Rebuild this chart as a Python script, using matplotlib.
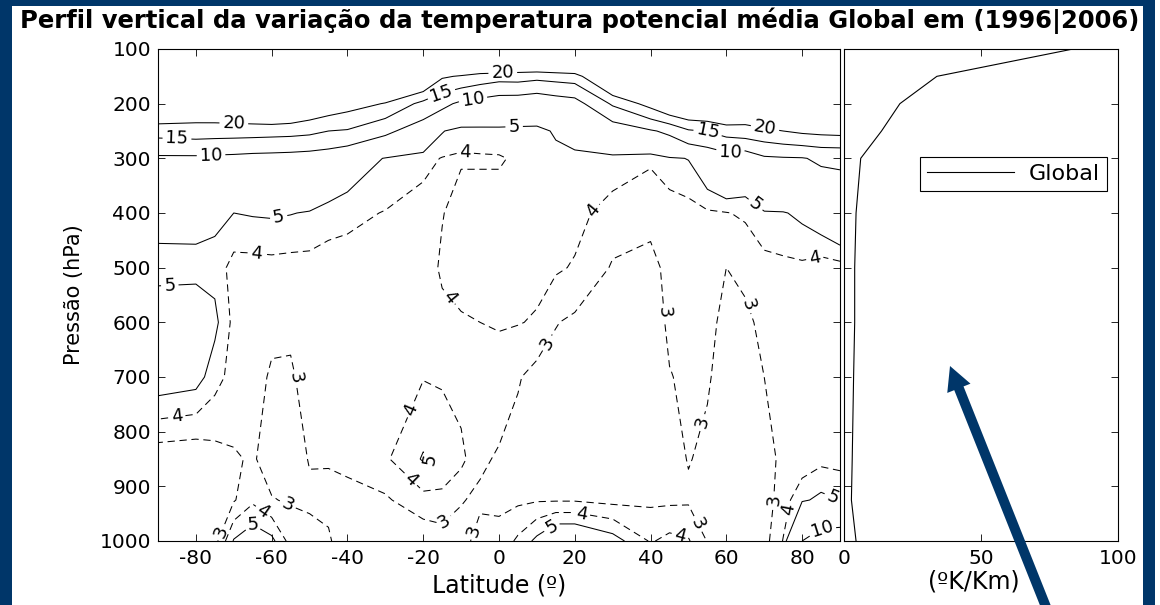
import numpy as np
import matplotlib
matplotlib.use("Agg")
import matplotlib.pyplot as plt
from matplotlib.patches import Rectangle, FancyArrow

plt.rcParams['axes.unicode_minus'] = False

# latitude columns and pressure levels of the zonal mean field
lats = [-90, -80, -75, -70, -65, -60, -55, -50, -45, -40, -30, -20, -15, -10, -5, 0,
        5, 10, 15, 20, 30, 40, 45, 50, 55, 60, 65, 70, 75, 80, 85, 90]
levels_hpa = [100, 150, 200, 250, 300, 400, 500, 600, 700, 850, 925, 1000]

# variation of mean potential temperature, one list per pressure level
dth_100 = [40, 40, 40, 40, 40, 40, 40, 40, 40, 40, 40, 40, 40, 38, 38, 42,
           37, 38.4, 40, 42, 42, 42, 41, 40, 40, 40, 40, 40, 40, 40, 40, 40]
dth_150 = [34, 33, 33, 33, 34, 35, 34, 32, 30, 29, 30, 28.2, 20.7, 19.5, 18, 17,
           17.2, 16.5, 17, 17.5, 30, 32, 32, 33, 34, 35, 34, 34, 33, 33, 33, 33]
dth_200 = [28.5, 25.8, 26.3, 27.2, 28.3, 29.8, 28.5, 25.7, 23.9, 22.3, 19.7, 13.5, 11.3, 9.0, 8.0, 7.0,
           6.8, 6.05, 7.2, 8.0, 15.7, 22.0, 26.5, 28.3, 28.75, 30.6, 26.6, 30.0, 28.0, 28.0, 28.0, 28.0]
dth_250 = [17.0, 17.5, 17.3, 17.2, 17.1, 16.9, 16.7, 16.2, 15.0, 14.6, 11.0, 7.5, 5.1, 4.35, 4.5, 4.67,
           4.65, 4.77, 5.1, 5.9, 7.1, 9.5, 11.0, 14.4, 15.2, 17.0, 18.0, 18.8, 20.0, 21.0, 21.5, 21.8]
dth_300 = [9.2, 9.2, 9.0, 8.8, 8.45, 8.3, 8.1, 7.8, 7.4, 6.2, 4.9, 4.3, 3.95, 3.9, 3.9, 3.9,
           4.15, 4.3, 4.8, 4.6, 4.7, 4.15, 4.8, 5.05, 6.5, 8.0, 7.0, 9.3, 9.6, 9.75, 10.7, 10.8]
dth_400 = [5.5, 5.4, 5.3, 5.0, 5.1, 5.15, 5.05, 4.9, 4.4, 4.25, 3.95, 3.6, 3.95, 4.4, 4.4, 4.4,
           4.5, 4.5, 4.5, 4.35, 3.53, 3.35, 3.4, 3.6, 3.85, 3.95, 4.15, 4.85, 4.9, 5.3, 6.0, 7.0]
dth_500 = [4.6, 4.7, 4.6, 3.6, 3.6, 3.65, 3.6, 3.6, 3.6, 3.6, 3.6, 3.5, 4.15, 4.4, 4.4, 4.3,
           4.4, 4.3, 4.15, 3.9, 2.9, 2.68, 3.3, 3.5, 3.6, 3.0, 3.3, 3.6, 3.75, 3.8, 3.5, 3.6]
dth_600 = [5.8, 5.7, 5.3, 3.7, 3.5, 3.2, 3.15, 3.45, 3.4, 3.45, 3.5, 3.5, 3.75, 3.9, 4.0, 4.1,
           4.05, 3.9, 3.05, 2.8, 2.6, 2.4, 3.2, 3.3, 3.3, 2.7, 2.75, 3.3, 3.5, 3.5, 3.4, 3.4]
dth_700 = [5.8, 5.5, 4.4, 3.6, 3.3, 2.9, 2.9, 3.3, 3.3, 3.35, 3.4, 3.95, 3.85, 3.5, 3.6, 3.5,
           3.1, 2.6, 2.6, 2.5, 2.4, 2.3, 2.95, 3.2, 3.1, 2.6, 2.6, 3.0, 3.4, 3.4, 3.5, 3.5]
dth_850 = [2.3, 2.2, 2.6, 2.9, 3.1, 2.6, 2.6, 3.05, 3.06, 3.12, 3.85, 5.1, 4.8, 4.3, 3.15, 2.9,
           2.6, 2.5, 2.4, 2.4, 2.3, 2.4, 2.6, 3.05, 2.8, 2.5, 2.5, 2.5, 3.3, 3.3, 3.7, 3.6]
dth_925 = [2.0, 2.3, 2.4, 2.9, 3.8, 3.05, 2.9, 2.85, 2.8, 2.85, 2.85, 3.7, 3.7, 3.05, 2.85, 2.8,
           2.8, 2.9, 2.9, 2.9, 2.7, 2.8, 2.8, 2.85, 2.7, 2.6, 2.6, 2.5, 3.5, 4.8, 5.3, 5.0]
dth_1000 = [2.0, 2.4, 2.6, 5.1, 5.8, 5.3, 3.6, 3.3, 3.1, 2.5, 2.6, 2.2, 2.5, 2.7, 3.3, 3.3,
            4.2, 5.3, 6.5, 6.5, 5.5, 3.9, 4.3, 4.1, 2.95, 2.8, 2.7, 2.6, 4.05, 10.0, 12.0, 12.5]

# global mean profile (right panel)
global_pres = [100, 150, 200, 250, 300, 400, 500, 600, 700, 850, 925, 1000]
global_vals = [83.6, 33.9, 20.4, 13.7, 6.1, 4.4, 3.9, 3.9, 3.5, 3.0, 2.7, 4.4]

dashed_levels = [3, 4]
solid_levels = [5, 10, 15, 20]

title = u"Perfil vertical da varia\u00e7\u00e3o da temperatura potencial m\u00e9dia Global em (1996|2006)"

# where the contour labels sit (lat, hPa)
lab_pos = {
    20: [(-70, 239), (1, 144), (70, 254)],
    15: [(-85, 266), (-16, 169), (55, 254)],
    10: [(-76, 294), (-7, 186), (61, 285), (85, 958)],
    5: [(-87, 516), (-58, 413), (4, 243), (68, 382), (-67, 952), (-18, 851), (14, 975), (88, 921)],
    4: [(-64, 470), (-85, 775), (-9, 296), (-13, 553), (25, 397), (83, 470), (-27, 748),
        (-23, 885), (-62, 943), (22, 940), (48, 985), (77, 943)],
    3: [(-54, 702), (-75, 979), (-56, 937), (-15, 961), (-8, 979), (12, 635), (41, 583),
        (54, 784), (67, 565), (53, 967), (75, 927)],
}

navy = '#003669'
W, H = 1160, 605

field = np.array([dth_100, dth_150, dth_200, dth_250, dth_300, dth_400, dth_500,
                  dth_600, dth_700, dth_850, dth_925, dth_1000])
LAT, P = np.meshgrid(lats, levels_hpa)

fig = plt.figure(figsize=(W / 100, H / 100), dpi=100)
fig.patch.set_facecolor('white')

def px_axes(x0, y0, x1, y1):
    return [x0 / W, 1 - y1 / H, (x1 - x0) / W, (y1 - y0) / H]

ax = fig.add_axes(px_axes(158, 49, 840, 541))
ax2 = fig.add_axes(px_axes(844, 49, 1118, 541))

ax.set_xlim(-90, 90)
ax.set_ylim(1000, 100)

# one contour set per level so each gets its own labels
for lev in dashed_levels + solid_levels:
    ls = [(0, (7, 4.5))] if lev in dashed_levels else 'solid'
    cs = ax.contour(LAT, P, field, levels=[lev], colors='k', linewidths=0.75,
                    linestyles=ls)
    ax.set_xlim(-90, 90)
    ax.set_ylim(1000, 100)
    ax.clabel(cs, manual=lab_pos[lev], inline=True, inline_spacing=3,
              fontsize=13, fmt='%d', colors='k')

ax.set_xticks(range(-80, 81, 20))
ax.set_yticks(range(100, 1001, 100))

for a in (ax, ax2):
    a.tick_params(direction='in', top=True, right=True, length=5, width=0.6,
                  labelsize=14.5)
    a.tick_params(axis='x', pad=6)
    a.tick_params(axis='y', pad=5)
    for s in a.spines.values():
        s.set_linewidth(0.8)

ax.set_ylabel(u'Press\u00e3o (hPa)', fontsize=15)
ax.yaxis.set_label_coords(-0.109, 0.5)
ax.set_xlabel(u'Latitude (\u00ba)', fontsize=17)
ax.xaxis.set_label_coords(0.5, -0.066)

ax2.plot(global_vals, global_pres, color='k', lw=0.8, label='Global')
ax2.set_xlim(0, 100)
ax2.set_ylim(1000, 100)
ax2.set_xticks([0, 50, 100])
ax2.set_yticks(range(100, 1001, 100))
ax2.set_yticklabels([])
ax2.set_xlabel(u'(\u00baK/Km)', fontsize=17)
ax2.xaxis.set_label_coords(0.474, -0.058)
leg = ax2.legend(loc='upper left', bbox_to_anchor=(0.277, 0.7805), borderaxespad=0,
                 fancybox=False, edgecolor='k', framealpha=1, fontsize=16,
                 handlelength=3.9, handletextpad=0.7, borderpad=0.32)
leg.get_frame().set_linewidth(0.8)

fig.text(0.5, 1 - 21 / H, title, ha='center', va='center', fontsize=17.5,
         fontweight='bold')

# slide frame and arrow, drawn in pixel units
ov = fig.add_axes([0, 0, 1, 1], zorder=10)
ov.set_xlim(0, W)
ov.set_ylim(H, 0)
ov.axis('off')
ov.add_patch(Rectangle((0, 0), 12, H, color=navy, lw=0))
ov.add_patch(Rectangle((0, 0), 1155, 6, color=navy, lw=0))
ov.add_patch(Rectangle((1143, 0), 12, H, color=navy, lw=0))
ov.add_patch(FancyArrow(1048, 612, -98, -246, width=10, head_width=25, head_length=24,
                        length_includes_head=True, color=navy, lw=0))

fig.savefig('out.png', dpi=100)
